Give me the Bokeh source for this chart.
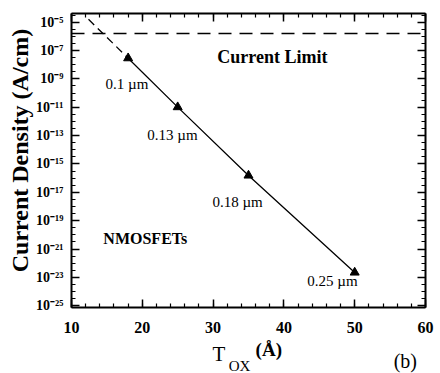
import math
from bokeh.plotting import figure
from bokeh.models import (Range1d, FixedTicker, CustomJSTickFormatter, Label,
                          LinearAxis, LogAxis, ColumnDataSource)
from bokeh.embed import file_html
from bokeh.resources import INLINE

# ---- data ----
tox = [18, 25, 35, 50]                       # oxide thickness (Å)
log_j = [-7.54, -10.99, -15.81, -22.65]      # log10 current density
node_labels = ["0.1 µm", "0.13 µm", "0.18 µm", "0.25 µm"]
extrap_tox = [12.4, 18]
extrap_logj = [-4.80, -7.54]
limit_tox = [10, 60]
limit_logj = [-5.8, -5.8]
y_tick_exps = list(range(-25, -4, 2))
x_ticks = [10, 20, 30, 40, 50, 60]

j = [10 ** v for v in log_j]
ej = [10 ** v for v in extrap_logj]
lj = [10 ** v for v in limit_logj]

SERIF = "Liberation Serif"
W, H = 440, 373

# visible axes box (data units)
XMIN, XMAX = 10, 60
YLMIN, YLMAX = -25.12, -4.39
# canvas placement of the box (px): left, right, top, bottom margins
ML, MR, MT, MB = 71, 15, 13, 66
sx = (W - ML - MR) / (XMAX - XMIN)
sy = (H - MT - MB) / (YLMAX - YLMIN)

p = figure(width=W, height=H, output_backend="svg", toolbar_location=None,
           y_axis_type="log", x_axis_location=None, y_axis_location=None,
           x_range=Range1d(XMIN - ML / sx, XMAX + MR / sx),
           y_range=Range1d(10 ** (YLMIN - MB / sy), 10 ** (YLMAX + MT / sy)),
           min_border=0)
p.xgrid.visible = False
p.ygrid.visible = False
p.outline_line_color = None
p.background_fill_color = "white"
p.border_fill_color = "white"

sup_js = """
const e = Math.round(Math.log10(tick));
const m = {'-':'\u207b','0':'\u2070','1':'\u00b9','2':'\u00b2','3':'\u00b3','4':'\u2074','5':'\u2075','6':'\u2076','7':'\u2077','8':'\u2078','9':'\u2079'};
return '10' + String(e).split('').map(c => m[c]).join('');
"""

yticker = FixedTicker(ticks=[10.0 ** k for k in y_tick_exps],
                      minor_ticks=[10.0 ** (k / 2) for k in range(-50, -8)])
xticker = FixedTicker(ticks=x_ticks, minor_ticks=list(range(10, 61, 2)))
ybounds = (10 ** YLMIN, 10 ** YLMAX)

def style(ax):
    ax.axis_line_width = 2
    ax.axis_line_color = "black"
    ax.major_tick_in = 8
    ax.major_tick_out = 0
    ax.minor_tick_in = 4
    ax.minor_tick_out = 0
    ax.major_tick_line_width = 1.5
    ax.minor_tick_line_width = 1.2
    ax.major_tick_line_color = "black"
    ax.minor_tick_line_color = "black"
    ax.major_label_text_color = "black"

left = LogAxis(ticker=yticker, formatter=CustomJSTickFormatter(code=sup_js),
               fixed_location=XMIN, bounds=ybounds)
style(left)
left.major_label_text_font = SERIF
left.major_label_text_font_size = "14px"
left.major_label_text_font_style = "bold"
left.major_label_standoff = 8
p.add_layout(left, "left")

right = LogAxis(ticker=yticker, formatter=CustomJSTickFormatter(code="return ''"),
                fixed_location=XMAX, bounds=ybounds)
style(right)
right.major_label_text_font_size = "0px"
p.add_layout(right, "right")

bottom = LinearAxis(ticker=xticker, fixed_location=10 ** YLMIN, bounds=(XMIN, XMAX))
style(bottom)
bottom.major_label_text_font = SERIF
bottom.major_label_text_font_size = "16px"
bottom.major_label_text_font_style = "bold"
bottom.major_label_standoff = 14
p.add_layout(bottom, "below")

top = LinearAxis(ticker=xticker, formatter=CustomJSTickFormatter(code="return ''"),
                 fixed_location=10 ** YLMAX, bounds=(XMIN, XMAX))
style(top)
top.major_label_text_font_size = "0px"
p.add_layout(top, "above")

# current limit
p.line(limit_tox, lj, line_color="black", line_width=1.5, line_dash="13 8")
# extrapolation
p.line(extrap_tox, ej, line_color="black", line_width=1.3, line_dash="8 5")
# data line + markers
src = ColumnDataSource(dict(x=tox, y=j))
p.line("x", "y", source=src, line_color="black", line_width=1.3)
p.scatter("x", "y", source=src, marker="triangle", size=9,
          fill_color="black", line_color="black")

def lab(x, ylog, text, size, style="normal", align="left", angle=0.0):
    p.add_layout(Label(x=x, y=10 ** ylog, text=text, text_font=SERIF,
                       text_font_size=size, text_font_style=style,
                       text_baseline="middle", text_align=align,
                       angle=angle, text_color="black"))

node_pos = [(14.8, -9.33), (20.7, -12.99), (29.9, -17.70), (43.3, -23.22)]
for (lx, ly), t in zip(node_pos, node_labels):
    lab(lx, ly, t, "15px")

lab(30.6, -7.49, "Current Limit", "18px", "bold")
lab(14.5, -20.26, "NMOSFETs", "16px", "bold")

# y axis title
lab(2.66, -14.05, "Current Density (A/cm)", "24px", "bold", "center", math.pi / 2)
# x axis title  T_OX (Å)  and panel tag (b)
lab(29.9, -28.43, "T", "21px")
lab(32.2, -29.21, "OX", "15px")
lab(36.0, -28.08, "(Å)", "19px", "bold")
lab(55.5, -28.86, "(b)", "20px")

open("out.html", "w").write(file_html(p, INLINE))
